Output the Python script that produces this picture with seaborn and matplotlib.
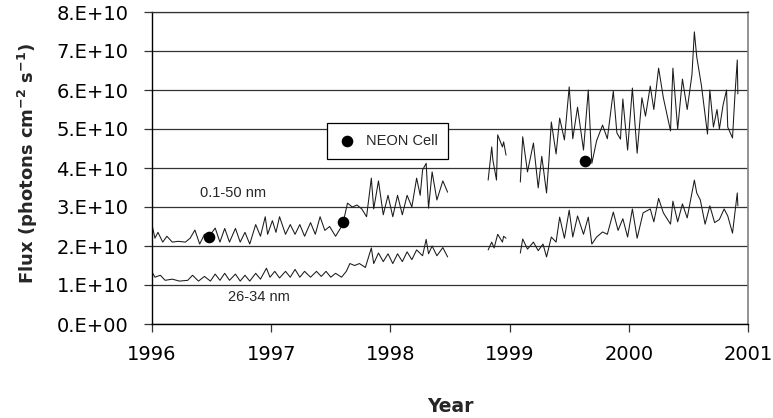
import numpy as np
import pandas as pd
import matplotlib
matplotlib.use("Agg")
import matplotlib.pyplot as plt
import seaborn as sns
from matplotlib.ticker import FixedLocator, FixedFormatter

# ---------------- data (flux in units of 1e10 photons cm^-2 s^-1) ----------------
# 0.1-50 nm band, three observing segments
upper_a_year = [1996.00, 1996.025, 1996.05, 1996.09, 1996.125, 1996.17, 1996.22, 1996.28, 1996.32, 1996.36,
                1996.40, 1996.44, 1996.48, 1996.53, 1996.57, 1996.61, 1996.65, 1996.70, 1996.74, 1996.78,
                1996.82, 1996.87, 1996.91, 1996.95, 1996.97, 1997.01, 1997.04, 1997.07, 1997.12, 1997.16,
                1997.20, 1997.24, 1997.28, 1997.33, 1997.37, 1997.41, 1997.45, 1997.49, 1997.54, 1997.58,
                1997.60, 1997.64, 1997.68, 1997.72, 1997.76, 1997.80, 1997.84, 1997.86, 1997.90, 1997.94,
                1997.98, 1998.02, 1998.06, 1998.10, 1998.14, 1998.18, 1998.22, 1998.25, 1998.27, 1998.30,
                1998.32, 1998.35, 1998.39, 1998.44, 1998.48]
upper_a_flux = [2.54, 2.20, 2.35, 2.10, 2.25, 2.10, 2.12, 2.10, 2.20, 2.41,
                2.05, 2.30, 2.25, 2.46, 2.10, 2.45, 2.10, 2.45, 2.10, 2.35,
                2.05, 2.55, 2.25, 2.75, 2.30, 2.65, 2.35, 2.75, 2.30, 2.55,
                2.30, 2.55, 2.25, 2.60, 2.30, 2.75, 2.40, 2.50, 2.25, 2.45,
                2.55, 3.10, 3.00, 3.05, 2.95, 2.75, 3.74, 2.95, 3.67, 2.80,
                3.30, 2.75, 3.30, 2.80, 3.30, 3.00, 3.74, 3.30, 3.95, 4.12,
                2.97, 3.90, 3.18, 3.67, 3.38]
upper_b_year = [1998.82, 1998.85, 1998.86, 1998.89, 1998.90, 1998.94, 1998.95, 1998.97]
upper_b_flux = [3.69, 4.54, 4.20, 3.69, 4.85, 4.54, 4.67, 4.33]
upper_c_year = [1999.09, 1999.11, 1999.15, 1999.20, 1999.24, 1999.27, 1999.31, 1999.33, 1999.35, 1999.39,
                1999.42, 1999.46, 1999.50, 1999.53, 1999.57, 1999.62, 1999.66, 1999.69, 1999.73, 1999.78,
                1999.82, 1999.87, 1999.90, 1999.93, 1999.95, 1999.99, 2000.03, 2000.07, 2000.11, 2000.14,
                2000.18, 2000.21, 2000.25, 2000.29, 2000.35, 2000.37, 2000.41, 2000.45, 2000.49, 2000.53,
                2000.55, 2000.57, 2000.61, 2000.66, 2000.68, 2000.71, 2000.74, 2000.76, 2000.79, 2000.82,
                2000.83, 2000.87, 2000.89, 2000.91, 2000.915]
upper_c_flux = [3.64, 4.80, 3.90, 4.64, 3.49, 4.30, 3.36, 4.20, 5.18, 4.36,
                5.28, 4.72, 6.08, 4.75, 5.56, 4.46, 6.00, 4.12, 4.70, 5.10,
                4.75, 5.97, 4.90, 4.74, 5.77, 4.46, 6.05, 4.38, 5.80, 5.33,
                6.10, 5.50, 6.56, 5.80, 4.95, 6.56, 5.00, 6.28, 5.50, 6.40,
                7.49, 6.85, 6.10, 4.87, 6.00, 5.05, 5.50, 5.00, 5.60, 6.00,
                5.05, 4.77, 5.85, 6.77, 5.90]

# 26-34 nm band, three observing segments
lower_a_year = [1996.00, 1996.025, 1996.07, 1996.11, 1996.17, 1996.23, 1996.30, 1996.34, 1996.39, 1996.44,
                1996.49, 1996.53, 1996.57, 1996.61, 1996.65, 1996.70, 1996.74, 1996.78, 1996.82, 1996.87,
                1996.91, 1996.96, 1996.99, 1997.03, 1997.07, 1997.12, 1997.16, 1997.20, 1997.24, 1997.28,
                1997.33, 1997.38, 1997.42, 1997.46, 1997.50, 1997.54, 1997.59, 1997.63, 1997.66, 1997.70,
                1997.74, 1997.79, 1997.84, 1997.86, 1997.90, 1997.94, 1997.98, 1998.02, 1998.06, 1998.10,
                1998.14, 1998.18, 1998.22, 1998.27, 1998.30, 1998.32, 1998.35, 1998.39, 1998.44, 1998.48]
lower_a_flux = [1.33, 1.20, 1.25, 1.12, 1.15, 1.10, 1.12, 1.25, 1.10, 1.22,
                1.10, 1.28, 1.12, 1.30, 1.12, 1.28, 1.10, 1.25, 1.10, 1.30,
                1.15, 1.43, 1.20, 1.35, 1.18, 1.35, 1.20, 1.40, 1.20, 1.35,
                1.20, 1.35, 1.22, 1.35, 1.20, 1.30, 1.20, 1.35, 1.55, 1.50,
                1.55, 1.45, 1.95, 1.55, 1.82, 1.60, 1.80, 1.55, 1.80, 1.60,
                1.85, 1.65, 1.90, 1.75, 2.17, 1.80, 2.00, 1.75, 1.96, 1.72]
lower_b_year = [1998.82, 1998.85, 1998.87, 1998.90, 1998.94, 1998.95, 1998.97]
lower_b_flux = [1.90, 2.10, 1.95, 2.30, 2.10, 2.25, 2.20]
lower_c_year = [1999.09, 1999.11, 1999.15, 1999.20, 1999.24, 1999.28, 1999.31, 1999.35, 1999.39, 1999.42,
                1999.46, 1999.50, 1999.53, 1999.57, 1999.62, 1999.66, 1999.69, 1999.73, 1999.78, 1999.82,
                1999.87, 1999.91, 1999.95, 1999.99, 2000.03, 2000.07, 2000.12, 2000.18, 2000.21, 2000.25,
                2000.29, 2000.35, 2000.37, 2000.41, 2000.45, 2000.49, 2000.55, 2000.57, 2000.60, 2000.64,
                2000.68, 2000.72, 2000.76, 2000.80, 2000.83, 2000.87, 2000.91, 2000.915]
lower_c_flux = [1.82, 2.18, 1.92, 2.10, 1.88, 2.05, 1.72, 2.23, 2.10, 2.74,
                2.20, 2.92, 2.23, 2.77, 2.30, 2.74, 2.05, 2.23, 2.36, 2.30,
                2.87, 2.40, 2.70, 2.23, 2.95, 2.20, 2.85, 2.95, 2.62, 3.22,
                2.85, 2.56, 3.15, 2.62, 3.08, 2.72, 3.69, 3.36, 3.18, 2.56,
                3.03, 2.60, 2.68, 2.95, 2.77, 2.33, 3.36, 3.03]

# NEON cell calibration points
neon_year = [1996.48, 1997.60, 1999.63]
neon_flux = [2.22, 2.62, 4.18]

y_tick_values = [0, 1, 2, 3, 4, 5, 6, 7, 8]
y_tick_labels = ["0.E+00", "1.E+10", "2.E+10", "3.E+10", "4.E+10",
                 "5.E+10", "6.E+10", "7.E+10", "8.E+10"]
x_tick_values = [1996, 1997, 1998, 1999, 2000, 2001]
x_tick_labels = ["1996", "1997", "1998", "1999", "2000", "2001"]

SCALE = 1e10

# ---------------- build long table ----------------
frames = []
for name, yr, fx in [("u_a", upper_a_year, upper_a_flux), ("u_b", upper_b_year, upper_b_flux),
                     ("u_c", upper_c_year, upper_c_flux), ("l_a", lower_a_year, lower_a_flux),
                     ("l_b", lower_b_year, lower_b_flux), ("l_c", lower_c_year, lower_c_flux)]:
    frames.append(pd.DataFrame({"year": yr, "flux": np.array(fx) * SCALE, "seg": name}))
df = pd.concat(frames, ignore_index=True)
neon = pd.DataFrame({"year": neon_year, "flux": np.array(neon_flux) * SCALE})

# ---------------- plot ----------------
sns.set_theme(style="white")
plt.rcParams["font.family"] = ["DejaVu Sans"]

fig = plt.figure(figsize=(7.73, 4.18), dpi=100)
ax = fig.add_axes([152 / 773, 1 - 324 / 418, 596 / 773, 312 / 418])

sns.lineplot(data=df, x="year", y="flux", units="seg", estimator=None,
             color="#1a1a1a", linewidth=0.75, ax=ax, legend=False, sort=False)
sns.scatterplot(data=neon, x="year", y="flux", color="black", s=70, edgecolor="black",
                linewidth=0, ax=ax, label="NEON Cell", zorder=5)

ax.set_xlim(1996, 2001)
ax.set_ylim(0, 8 * SCALE)

ax.yaxis.set_major_locator(FixedLocator([v * SCALE for v in y_tick_values]))
ax.yaxis.set_major_formatter(FixedFormatter(y_tick_labels))
ax.xaxis.set_major_locator(FixedLocator(x_tick_values))
ax.xaxis.set_major_formatter(FixedFormatter(x_tick_labels))

ax.grid(axis="y", color="#333333", linewidth=0.9)
ax.grid(axis="x", visible=False)
ax.set_axisbelow(True)

for side in ["left", "bottom"]:
    ax.spines[side].set_color("black")
    ax.spines[side].set_linewidth(1.0)
ax.spines["top"].set_color("#333333")
ax.spines["top"].set_linewidth(0.9)
ax.spines["right"].set_color("#808080")
ax.spines["right"].set_linewidth(1.2)

ax.tick_params(axis="both", which="major", direction="out", length=6, width=0.9,
               color="#333333", labelsize=14, labelcolor="black")
ax.tick_params(axis="y", pad=11)
ax.tick_params(axis="x", pad=9)
ax.yaxis.set_ticks_position("left")
ax.xaxis.set_ticks_position("bottom")

ax.set_xlabel("Year", fontsize=13.5, fontweight="bold")
ax.set_ylabel(r"Flux (photons cm$^{\mathbf{-2}}$ s$^{\mathbf{-1}}$)", fontsize=13,
              fontweight="bold")
ax.xaxis.set_label_coords(0.5, (324 - 407) / 312)
ax.yaxis.set_label_coords((28 - 152) / 596, (324 - 163) / 312)
ax.xaxis.label.set_va("center")
ax.yaxis.label.set_va("center")

small_font = ["Liberation Sans", "DejaVu Sans"]
ax.text(1996.68, 3.36 * SCALE, "0.1-50 nm", fontsize=10.5, ha="center", va="center",
        family=small_font)
ax.text(1996.90, 0.69 * SCALE, "26-34 nm", fontsize=10.5, ha="center", va="center",
        family=small_font)

leg = ax.legend(loc="upper left", bbox_to_anchor=(0.2936, 0.644), borderaxespad=0,
                frameon=True, fancybox=False, handletextpad=0.6,
                borderpad=0.75, handlelength=1.3, markerscale=1.0,
                prop={"family": small_font, "size": 10.5})
leg.get_frame().set_edgecolor("black")
leg.get_frame().set_linewidth(0.9)
leg.get_frame().set_facecolor("white")
leg.get_frame().set_alpha(1)
leg.set_zorder(10)

fig.savefig("out.png", dpi=100, facecolor="white")
